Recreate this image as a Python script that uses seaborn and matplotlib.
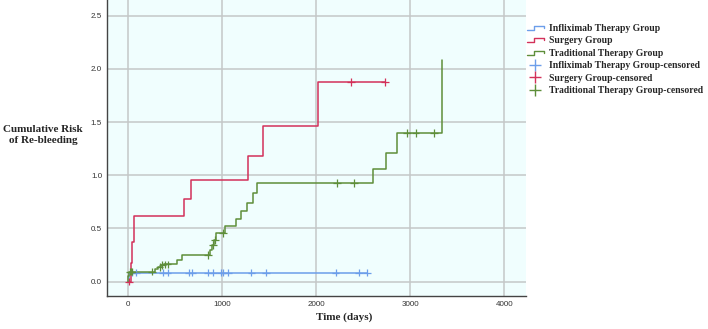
import numpy as np
import pandas as pd
import matplotlib
matplotlib.use("Agg")
import matplotlib.pyplot as plt
import seaborn as sns
from matplotlib.lines import Line2D
from matplotlib.legend_handler import HandlerBase

# ---------------- data ----------------
groups = ["Infliximab Therapy Group", "Surgery Group", "Traditional Therapy Group"]

inf_t = [0, 15, 2538]
inf_y = [0.0, 0.085, 0.085]
inf_c = [46, 88, 375, 421, 647, 679, 852, 908, 990, 1015, 1060, 1311, 1467, 2206, 2457, 2538]

sur_t = [0, 28, 45, 65, 597, 675, 1276, 1436, 2018, 2733]
sur_y = [0.0, 0.175, 0.373, 0.618, 0.775, 0.957, 1.183, 1.468, 1.876, 1.876]
sur_c = [8, 2372, 2733]

tra_t = [0, 5, 15, 290, 320, 350, 380, 523, 569, 870, 895, 912, 940, 1030, 1150,
         1202, 1262, 1329, 1375, 2602, 2744, 2857, 3340]
tra_y = [0.0, 0.05, 0.095, 0.12, 0.14, 0.155, 0.163, 0.204, 0.251, 0.298, 0.342, 0.39,
         0.455, 0.524, 0.585, 0.665, 0.743, 0.831, 0.925, 1.06, 1.21, 1.396, 2.086]
tra_c = [20, 32, 44, 258, 335, 365, 395, 420, 850, 905, 925, 1010, 2223, 2400, 2966, 3057, 3252]

x_ticks = [0, 1000, 2000, 3000, 4000]
y_ticks = [0.0, 0.5, 1.0, 1.5, 2.0, 2.5]

colors = {"Infliximab Therapy Group": "#6C9EEA",
          "Surgery Group": "#D3315A",
          "Traditional Therapy Group": "#5E8E3A"}

# ---------------- frames ----------------
curves = {groups[0]: (inf_t, inf_y, inf_c),
          groups[1]: (sur_t, sur_y, sur_c),
          groups[2]: (tra_t, tra_y, tra_c)}

line_rows, cens_rows = [], []
for g, (t, y, c) in curves.items():
    for ti, yi in zip(t, y):
        line_rows.append({"time": ti, "risk": yi, "group": g})
    t_arr, y_arr = np.array(t), np.array(y)
    for ci in c:
        idx = np.searchsorted(t_arr, ci, side="right") - 1
        cens_rows.append({"time": ci, "risk": y_arr[idx], "group": g})
lines_df = pd.DataFrame(line_rows)
cens_df = pd.DataFrame(cens_rows)

# ---------------- plot ----------------
sns.set_style("white")
plt.rcParams["font.family"] = ["Liberation Sans", "DejaVu Sans"]

fig = plt.figure(figsize=(7.08, 3.29), dpi=100)
ax = fig.add_axes([107 / 708, 1 - 296 / 329, (526 - 107) / 708, 296 / 329])
ax.set_facecolor("#F0FEFE")

ax.set_xlim(-223, 4230)
ax.set_ylim(-0.135, 2.648)
ax.set_xticks(x_ticks)
ax.set_yticks(y_ticks)
ax.set_xticklabels([str(v) for v in x_ticks])
ax.set_yticklabels([f"{v:.1f}" for v in y_ticks])
ax.grid(True, color="#C4C8C8", linewidth=1.1)
ax.set_axisbelow(True)

for s in ["top", "right"]:
    ax.spines[s].set_visible(False)
for s in ["left", "bottom"]:
    ax.spines[s].set_color("#444444")
    ax.spines[s].set_linewidth(1.0)
ax.tick_params(axis="both", length=0, labelsize=5.8, labelcolor="#333333", pad=3.5)

sns.lineplot(data=lines_df, x="time", y="risk", hue="group", palette=colors,
             estimator=None, sort=False, drawstyle="steps-post", linewidth=1.1,
             legend=False, ax=ax)
sns.scatterplot(data=cens_df, x="time", y="risk", hue="group", palette=colors,
                marker="+", s=30, linewidth=0.9, legend=False, ax=ax, zorder=4)
ax.set_xlabel("")
ax.set_ylabel("")

fig.text(43 / 708, 1 - 135 / 329, "Cumulative Risk\nof Re-bleeding", ha="center", va="center",
         family="Liberation Serif", fontweight="bold", fontsize=8.0, linespacing=1.25)
fig.text(344 / 708, 1 - 317 / 329, "Time (days)", ha="center", va="center",
         family="Liberation Serif", fontweight="bold", fontsize=8.0)


class StepHandler(HandlerBase):
    def create_artists(self, legend, orig_handle, xdescent, ydescent, width, height,
                       fontsize, trans):
        xs = np.array([0, 0.45, 0.45, 1.0, 1.0]) * width - xdescent
        ys = np.array([0.15, 0.15, 0.75, 0.75, 0.45]) * height - ydescent
        ln = Line2D(xs, ys, color=orig_handle.get_color(), linewidth=1.0, transform=trans)
        return [ln]


step_handles = [Line2D([], [], color=colors[g]) for g in groups]
cens_handles = [Line2D([], [], color=colors[g], marker="+", markersize=9, linewidth=0,
                       markeredgewidth=1.0) for g in groups]
handles = step_handles + cens_handles
labels = groups + [g + "-censored" for g in groups]
hmap = {h: StepHandler() for h in step_handles}
leg = fig.legend(handles, labels, handler_map=hmap, loc="upper left",
                 bbox_to_anchor=(525 / 708, 1 - 22 / 329), frameon=False,
                 prop={"family": "Liberation Serif", "weight": "bold", "size": 6.9},
                 handlelength=1.75, handletextpad=0.55, labelspacing=0.36, borderpad=0.2,
                 borderaxespad=0.0)

fig.savefig("out.png", dpi=100)
